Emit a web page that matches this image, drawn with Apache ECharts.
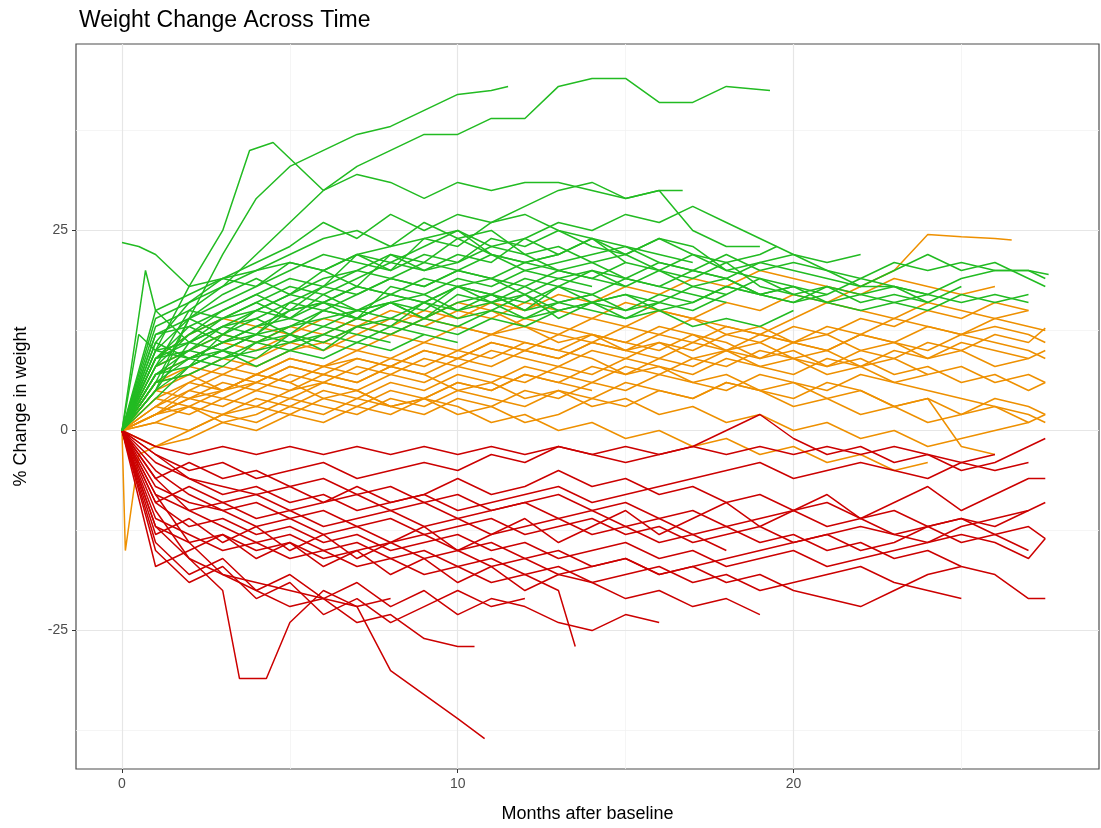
<!DOCTYPE html>
<html>
<head>
<meta charset="utf-8">
<script src="https://cdn.jsdelivr.net/npm/echarts@6/dist/echarts.min.js"></script>
<style>html,body{margin:0;padding:0;background:#fff}#chart{width:1101px;height:828px}</style>
</head>
<body>
<div id="chart"></div>
<script>
// ==================== Data (month, % change) flat pairs per subject ====================
const xTicks = [0, 10, 20];
const yTicks = [-25, 0, 25];
const xMinor = [5, 15, 25];
const yMinor = [-37.5, -12.5, 12.5, 37.5];

const greenLines = [
 [0,0,1,5,2,14,3,22,4,29,5,33,6,35,7,37,8,38,9,40,10,42,11,42.5,11.5,43],
 [0,0,1,8,2,15,3,18,4,22,5,26,6,30,7,33,8,35,9,37,10,37,11,39,12,39,13,43,14,44,15,44,16,41,17,41,18,43,19.3,42.5],
 [0,0,1,10,2,18,3,25,3.8,35,4.5,36,5,34,6,30,7,32,8,31,9,29,10,31,11,30,12,31,13,31,14,30,15,29,16,30,17,25,18,23,19,23],
 [0,23.5,0.5,23,1,22,2,18,3,19,4,20,5,21,6,20,7,22,8,23,9,24,10,25,11,22,12,21,13,22,14,24,15,22,16,24,17,22,18,20,19,21,20,20,21,19,22,18,23,18,24,17,25,19,26,20,27,20,27.6,19.5],
 [0,0,1,9,2,10,3,13,4,15,5,17,6,19,7,20,8,22,9,21,10,24,11,22,12,20,13,21,14,22,15,23,16,21,17,20,18,19,19,21,20,22,21,20,22,18,23,20,24,22,25,20,26,21,27.5,18],
 [0,0,0.5,12,1,10,2,9,3,11,4,12,5,13,6,14,7,15,8,16,9,14,10,16,11,17,12,15,13,18,14,16,15,17,16,16,17,18,18,17,19,19,20,17,21,18,22,16,23,17,24,16,25,18],
 [0,0,1,7,2,8,3,10,4,9,5,12,6,11,7,13,8,12,9,14,10,13,11,15,12,14,13,16,14,15,15,14,16,16],
 [0,0,1,5,2,11,3,14,4,16,5,18,6,17,7,19,8,21,9,20,10,22,11,21,12,24,13,26,14,25,15,27,16,26,17,28,18,26,19,24,20,22,21,21,22,22],
 [0,0,1,12,2,14,3,12,4,15,5,14,6,16,7,18,8,17,9,19,10,18,11,19,12,17,13,19,14,20,15,18],
 [0,0,1,9,2,13,3,11,4,13,5,15,6,16,7,14,8,16,9,17,10,15,11,16,12,14,13,15],
 [0,0,1,4,2,8,3,10,4,12,5,16,6,18,7,22,8,20,9,24,10,23,11,26,12,28,13,30,14,31,15,29,16,30,16.7,30],
 [0,0,1,6,2,9,3,8,4,11,5,12,6,10,7,13,8,14,9,13,10,12,11,14,12,13,13,15,14,16,15,17,16,15,17,16,18,18,19,17,20,16,21,17],
 [0,0,1,14,2,16,3,18,4,20,5,22,6,24,7,25,8,23,9,26,10,24,11,25,12,22,13,23,14,21,15,22,16,20,17,22,18,21,19,22,19.5,23],
 [0,0,1,10,2,11,3,13,4,14,5,12,6,15,7,14,8,16,9,15,10,18,11,17,12,19,13,18,14,20,15,19,16,21,17,20,18,22,19,20,20,21,21,20,22,19,23,18,24,17,25,16,26,17,27,16],
 [0,0,1,7,2,10,3,9,4,11,5,10,6,12,7,11,8,13,9,12,10,11],
 [0,0,1,11,2,16,3,19,4,21,5,23,6,26,7,24,8,27,9,25,10,27,11,26,12,27,13,25,14,24,15,23,16,22,17,21],
 [0,0,1,8,2,12,3,15,4,17,5,15,6,18,7,17,8,19,9,18,10,20,11,19,12,21,13,20,14,19,15,18,16,20,17,18,18,19,19,17,20,18,21,16,22,15,23,16,24,17],
 [0,0,1,13,2,15,3,14,4,16,5,14,6,17,7,15,8,16,9,14,10,17,11,16,12,18,13,16,14,17],
 [0,0,0.7,20,1,15,2,11,3,10,4,12,5,11,6,13,7,12,8,11],
 [0,0,1,6,2,7,3,9,4,10,5,11,6,12,7,14,8,13,9,16,10,15,11,17,12,16,13,18,14,17,15,19,16,18,17,17,18,16],
 [0,0,1,10,2,14,3,16,4,18,5,20,6,22,7,21,8,20,9,22,10,21,11,23,12,22,13,20,14,21,15,19,16,18,17,20,18,19,19,17,20,18,21,17,22,19,23,21,24,20,25,21,26,20,27,20,27.5,19],
 [0,0,1,5,2,8,3,12,4,11,5,13,6,15,7,14,8,18,9,17,10,19,11,18,12,20,13,19,14,18],
 [0,0,1,9,2,12,3,14,4,15,5,17,6,16,7,18,8,17,9,16,10,18,11,17,12,15,13,16,14,17,15,15,16,16,17,15,18,17],
 [0,0,1,15,2,17,3,19,4,18,5,21,6,20,7,22,8,21,9,23,10,25,11,23,12,24,13,22,14,24,15,21],
 [0,0,1,7,2,9,3,11,4,13,5,14,6,13,7,15,8,14,9,16,10,14,11,15,12,17,13,15,14,16,15,14,16,15,17,13,18,14,19,13,20,15],
 [0,0,1,12,2,13,3,15,4,17,5,19,6,18,7,20,8,19,9,21,10,20,11,22,12,21,13,22],
 [0,0,1,8,2,10,3,12,4,14,5,16,6,15,7,17,8,19,9,18,10,20,11,19,12,18,13,20,14,19,15,21,16,20,17,19,18,21,19,18,20,17,21,16,22,17,23,18,24,16],
 [0,0,1,11,2,9,3,10,4,8,5,10,6,9,7,11,8,10,9,12],
 [0,0,1,6,2,14,3,17,4,19,5,17,6,20,7,18,8,22,9,20,10,21,11,24,12,23,13,25,14,23,15,22,16,24,17,23,18,20,19,19,20,18],
 [0,0,1,9,2,11,3,13,4,12,5,15,6,16,7,15,8,17,9,16,10,18,11,16,12,17,13,14,14,16,15,15,16,17,17,16,18,18,19,17,20,16,21,18,22,17,23,16,24,15,25,17,26,16,27,17]
];

const orangeLines = [
 [0,0,1,2,2,4,3,5,4,6,5,8,6,7,7,9,8,8,9,10,10,9,11,11,12,10,13,12,14,11,15,13,16,12,17,14,18,13,19,12,20,14,21,16,22,18,23,20,24,24.5,25,24.2,26,24,26.5,23.8],
 [0,0,1,3,2,5,3,4,4,6,5,5,6,7,7,6,8,8,9,7,10,9,11,8,12,10,13,9,14,11,15,10,16,12,17,11,18,13,19,12,20,11,21,13,22,12,23,14,24,13,25,12,26,14,27,13,27.5,12.5],
 [0,0,1,5,2,7,3,9,4,8,5,10,6,11,7,10,8,12,9,11,10,13,11,12,12,14,13,13,14,12,15,11,16,13,17,12,18,10,19,11,20,9,21,10,22,8,23,9,24,7,25,8,26,6,27,7,27.5,6],
 [0,0,1,1,2,3,3,2,4,4,5,3,6,5,7,4,8,6,9,5,10,7,11,6,12,8,13,7,14,6,15,8,16,7,17,9,18,8,19,10,20,9,21,8,22,10,23,9,24,11,25,10,26,12,27,11,27.5,12.8],
 [0,0,1,6,2,8,3,7,4,9,5,11,6,10,7,12,8,14,9,13,10,15,11,14,12,16,13,15,14,14,15,16,16,15,17,14,18,16,19,15,20,17,21,16,22,15,23,14,24,16,25,15,26,14,27,15],
 [0,0,1,2,2,3,3,1,4,2,5,4,6,3,7,2,8,4,9,3,10,5,11,4,12,3,13,5,14,4,15,6,16,5,17,4,18,6,19,5,20,4,21,6,22,5,23,3,24,4,25,2,26,3,27,1,27.5,2],
 [0,0,0.1,-15,0.5,-3,2,0,3,2,4,3,5,2,6,4,7,3,8,5,9,4,10,6,11,5,12,7,13,6,14,5],
 [0,0,1,4,2,6,3,8,4,7,5,9,6,8,7,10,8,9,9,11,10,10,11,12,12,11,13,10,14,12,15,11,16,10,17,12,18,11,19,9,20,10,21,8,22,9,23,7,24,8,25,6,26,7,27,5,27.5,6],
 [0,0,1,7,2,9,3,11,4,10,5,12,6,11,7,13,8,12,9,14,10,13,11,12,12,13,13,11,14,12,15,10,16,11,17,9,18,10,19,8,20,9,21,7,22,8,23,6,24,7],
 [0,0,1,3,2,2,3,4,4,3,5,5,6,6,7,5,8,7,9,6,10,8,11,7,12,6,13,8,14,7,15,9,16,8,17,7,18,9,19,8,20,7,21,9,22,8,23,10,24,9,25,11,26,10,27,9,27.5,10],
 [0,0,1,5,2,4,3,6,4,5,5,7,6,6,7,8,8,7,9,9,10,8,11,10,12,9,13,8,14,10,15,9,16,11,17,10,18,12,19,11,20,13,21,12,22,14,23,13,24,15,25,14,26,16,27,15],
 [0,0,1,-2,2,-1,3,1,4,0,5,2,6,1,7,3,8,2,9,4,10,3,11,1,12,2,13,0,14,1,15,-1,16,0,17,-2,18,-1,19,-3,20,-2,21,-4,22,-3,23,-5,24,-4],
 [0,0,1,8,2,10,3,12,4,11,5,13,6,12,7,14,8,13,9,15,10,14,11,16,12,15,13,17,14,16,15,18,16,17,17,19,18,18,19,20,20,19,21,18,22,17,23,19,24,18,25,17,26,18],
 [0,0,1,2,2,5,3,7,4,6,5,8,6,7,7,6,8,8,9,7,10,5,11,6,12,4,13,5,14,3,15,4,16,2,17,3,18,1,19,2,20,0,21,1,22,-1,23,0,24,-2,25,-1,26,0,27,1],
 [0,0,1,4,2,3,3,5,4,7,5,6,6,8,7,9,8,8,9,10,10,9,11,11,12,10,13,9,14,11,15,10,16,9,17,11,18,10,19,12,20,11,21,10,22,12,23,11,24,10,25,12,26,11,27,10,27.5,9],
 [0,0,1,1,2,0,3,2,4,1,5,3,6,2,7,4,8,3,9,2,10,4,11,3,12,5,13,4,14,6,15,5,16,7,17,6,18,5,19,7,20,6,21,5,22,7,23,6,24,5,25,4,26,3,27,2,27.5,1],
 [0,0,1,6,2,7,3,5,4,7,5,9,6,8,7,7,8,9,9,8,10,10,11,9,12,11,13,10,14,9,15,7,16,8,17,6,18,7,19,5,20,6,21,4,22,5,23,3,24,4,25,-2,26,-3],
 [0,0,1,3,2,6,3,5,4,7,5,6,6,4,7,5,8,3,9,4,10,6,11,5,12,7,13,6,14,8,15,7,16,9,17,8,18,10,19,9,20,11,21,10,22,12,23,11,24,13,25,12,26,13,27,12,27.5,11],
 [0,0,1,9,2,12,3,14,4,13,5,12,6,14,7,13,8,15,9,14,10,16,11,15,12,13,13,12,14,14,15,13,16,15,17,14,18,12,19,13,20,11,21,12,22,10,23,11,24,9,25,10,26,8,27,9],
 [0,0,1,2,2,4,3,3,4,5,5,4,6,6,7,5,8,3,9,4,10,2,11,3,12,1,13,2,14,4,15,3,16,5,17,4,18,6,19,5,20,3,21,4,22,2,23,3,24,1,25,2,26,4,27,3,27.5,2]
];

const redLines = [
 [0,0,1,-8,2,-14,3,-18,4,-20,5,-22,6,-21,7,-24,8,-23,9,-26,10,-27,10.5,-27],
 [0,0,1,-10,2,-16,3,-20,3.5,-31,4.3,-31,5,-24,6,-20,7,-22,8,-21],
 [0,0,1,-12,2,-16,3,-18,4,-19,5,-20,6,-21,7,-22,8,-30,9,-33,10,-36,10.8,-38.5],
 [0,0,1,-6,2,-10,3,-12,4,-14,5,-13,6,-15,7,-14,8,-16,9,-15,10,-17,11,-16,12,-18,13,-17,14,-19,15,-18,16,-17,17,-19,18,-18,19,-20,20,-19,21,-18,22,-17,23,-19,24,-20,25,-21],
 [0,0,1,-4,2,-6,3,-7,4,-8,5,-7,6,-9,7,-8,8,-10,9,-9,10,-11,11,-10,12,-9,13,-11,14,-10,15,-12,16,-11,17,-13,18,-12,19,-14,20,-13,21,-15,22,-14,23,-16,24,-15,25,-17,26,-18,27,-21,27.5,-21],
 [0,0,1,-14,2,-18,3,-16,4,-20,5,-18,6,-21,7,-19,8,-22,9,-20,10,-23,11,-21,12,-22,13,-24,14,-25,15,-23,16,-24],
 [0,0,1,-9,2,-12,3,-11,4,-13,5,-12,6,-14,7,-13,8,-15,9,-14,10,-13,11,-15,12,-14,13,-16,14,-15,15,-14,16,-16,17,-15,18,-17,19,-16,20,-15,21,-17,22,-16,23,-15,24,-14,25,-13,26,-14,27,-16,27.5,-13.5],
 [0,0,1,-3,2,-5,3,-4,4,-6,5,-5,6,-4,7,-6,8,-5,9,-4,10,-5,11,-3,12,-4,13,-2,14,-3,15,-4,16,-3,17,-2,18,0,19,2,20,-1,21,-3,22,-2,23,-4,24,-3,25,-5,26,-4,27,-2,27.5,-1],
 [0,0,1,-11,2,-13,3,-15,4,-14,5,-16,6,-15,7,-17,8,-16,9,-18,10,-17,11,-19,12,-18,13,-20,13.5,-27],
 [0,0,1,-7,2,-9,3,-10,4,-9,5,-11,6,-10,7,-12,8,-11,9,-13,10,-12,11,-11,12,-13,13,-12,14,-11,15,-13,16,-12,17,-14,18,-13,19,-12,20,-14,21,-13,22,-15,23,-14,24,-12,25,-11,26,-12,27,-10],
 [0,0,1,-2,2,-3,3,-2,4,-3,5,-2,6,-3,7,-2,8,-3,9,-2,10,-3,11,-2,12,-3,13,-2,14,-3,15,-2,16,-3,17,-2,18,-3,19,-2,20,-3,21,-2,22,-3,23,-2,24,-3,25,-4,26,-3],
 [0,0,1,-15,2,-19,3,-17,4,-21,5,-19,6,-23,7,-21,8,-24,9,-22,10,-20,11,-22,12,-21],
 [0,0,1,-13,2,-11,3,-14,4,-12,5,-15,6,-13,7,-16,8,-14,9,-12,10,-15,11,-13,12,-11,13,-14,14,-12,15,-10,16,-13,17,-11,18,-9,19,-12,20,-10,21,-8,22,-11,23,-9,24,-7,25,-10,26,-8,27,-6,27.5,-6],
 [0,0,1,-5,2,-8,3,-10,4,-12,5,-11,6,-13,7,-12,8,-14,9,-13,10,-15,11,-14,12,-16,13,-15,14,-17,15,-16,16,-18,17,-17,18,-19,19,-18,20,-20,21,-21,22,-22,23,-20,24,-18,25,-17],
 [0,0,1,-9,2,-7,3,-9,4,-8,5,-10,6,-9,7,-7,8,-9,9,-8,10,-6,11,-8,12,-7,13,-5,14,-7,15,-6,16,-8,17,-7,18,-9,19,-8,20,-10,21,-9,22,-11,23,-10,24,-12,25,-11,26,-13,27,-12,27.5,-13.5],
 [0,0,1,-17,2,-15,3,-13,4,-16,5,-14,6,-17,7,-15,8,-18,9,-16,10,-19,11,-17,12,-20,13,-18,14,-19,15,-21,16,-20,17,-22,18,-21,19,-23],
 [0,0,1,-6,2,-4,3,-6,4,-5,5,-7,6,-6,7,-8,8,-7,9,-9,10,-8,11,-10,12,-9,13,-8,14,-10,15,-9,16,-11,17,-10,18,-12,19,-11,20,-10,21,-12,22,-11,23,-13,24,-12,25,-14,26,-13,27,-15],
 [0,0,1,-12,2,-14,3,-13,4,-15,5,-14,6,-16,7,-15,8,-14,9,-16,10,-15,11,-17,12,-16,13,-18,14,-17,15,-16,16,-18,17,-17,18,-16,19,-15,20,-14,21,-13,22,-12,23,-13,24,-14,25,-12,26,-11,27,-10,27.5,-9],
 [0,0,1,-8,2,-10,3,-9,4,-11,5,-10,6,-12,7,-11,8,-10,9,-12,10,-11,11,-13,12,-12,13,-11,14,-13,15,-12,16,-14,17,-13,18,-15],
 [0,0,1,-3,2,-6,3,-8,4,-7,5,-9,6,-8,7,-10,8,-9,9,-8,10,-10,11,-9,12,-8,13,-7,14,-9,15,-8,16,-7,17,-6,18,-5,19,-4,20,-6,21,-5,22,-4,23,-5,24,-6,25,-4,26,-5,27,-4]
];

// ==================== Build series ====================
function toPairs(flat) {
    const out = [];
    for (let i = 0; i < flat.length; i += 2) out.push([flat[i], flat[i + 1]]);
    return out;
}

function lineSeries(lines, color) {
    return lines.map(l => ({
        type: 'line', data: toPairs(l), showSymbol: false, silent: true,
        lineStyle: { color: color, width: 1.5 }, z: 3
    }));
}

const gridSeries = {
    type: 'line', data: [], silent: true, z: 0,
    markLine: {
        silent: true, symbol: 'none', label: { show: false }, animation: false, z: 0,
        data: [
            ...xMinor.map(v => ({ xAxis: v, lineStyle: { color: '#f3f3f3', width: 0.8, type: 'solid' } })),
            ...yMinor.map(v => ({ yAxis: v, lineStyle: { color: '#f3f3f3', width: 0.8, type: 'solid' } })),
            ...xTicks.map(v => ({ xAxis: v, lineStyle: { color: '#e6e6e6', width: 1.2, type: 'solid' } })),
            ...yTicks.map(v => ({ yAxis: v, lineStyle: { color: '#e6e6e6', width: 1.2, type: 'solid' } }))
        ]
    }
};

// ==================== Chart ====================
const chart = echarts.init(document.getElementById('chart'));
chart.setOption({
    animation: false,
    title: {
        text: 'Weight Change Across Time', left: 74, top: 4,
        textStyle: { fontFamily: 'Liberation Sans', fontSize: 23, fontWeight: 'normal', color: '#000' }
    },
    grid: { left: 76, top: 44, right: 2, bottom: 56, show: true, borderColor: '#4d4d4d', borderWidth: 1.2 },
    xAxis: {
        type: 'value', min: -1.37, max: 29.1,
        name: 'Months after baseline', nameLocation: 'middle', nameGap: 36,
        nameTextStyle: { fontFamily: 'Liberation Sans', fontSize: 18, color: '#000' },
        axisLine: { show: false, onZero: false }, splitLine: { show: false },
        axisTick: { show: true, customValues: xTicks, length: 4, lineStyle: { color: '#333' } },
        axisLabel: { customValues: xTicks, fontFamily: 'Liberation Sans', fontSize: 14, color: '#4d4d4d', margin: 8 }
    },
    yAxis: {
        type: 'value', min: -42.3, max: 48.3,
        name: '% Change in weight', nameLocation: 'middle', nameGap: 46,
        nameTextStyle: { fontFamily: 'Liberation Sans', fontSize: 18, color: '#000' },
        axisLine: { show: false, onZero: false }, splitLine: { show: false },
        axisTick: { show: true, customValues: yTicks, length: 4, lineStyle: { color: '#333' } },
        axisLabel: { customValues: yTicks, fontFamily: 'Liberation Sans', fontSize: 14, color: '#4d4d4d', margin: 8 }
    },
    series: [
        gridSeries,
        ...lineSeries(orangeLines, '#ee9000'),
        ...lineSeries(redLines, '#cc0000'),
        ...lineSeries(greenLines, '#22bb22')
    ]
});
</script>
</body>
</html>
